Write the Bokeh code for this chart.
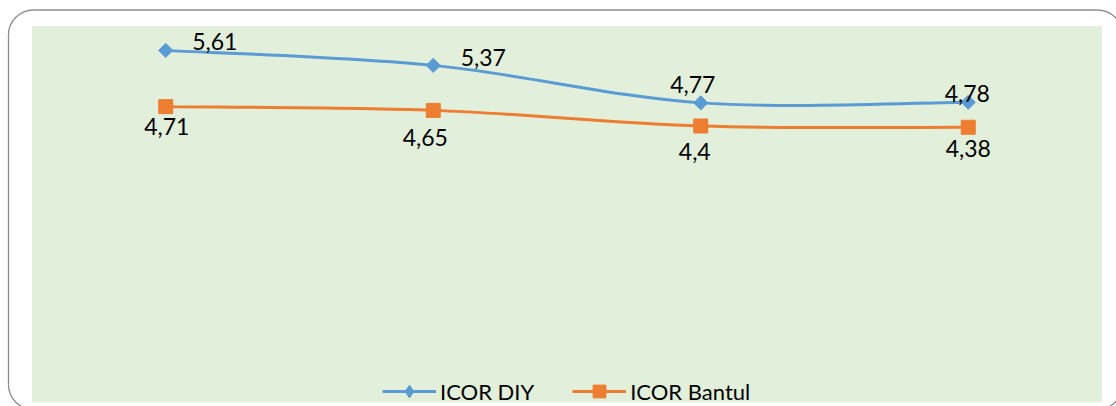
import math
from bokeh.plotting import figure
from bokeh.models import ColumnDataSource, Range1d, Legend, LegendItem, BoxAnnotation
from bokeh.core.properties import value
from bokeh.embed import file_html
from bokeh.resources import INLINE

# ---- data ----
categories = ["1", "2", "3", "4"]
icor_diy = [5.61, 5.37, 4.77, 4.78]
icor_bantul = [4.71, 4.65, 4.40, 4.38]
diy_labels = ["5,61", "5,37", "4,77", "4,78"]
bantul_labels = ["4,71", "4,65", "4,4", "4,38"]

# label offsets in screen pixels (layout only; dy > 0 = upward)
diy_dx = [49, 50, -8, -1]
diy_dy = [9, 8, 18, 9]
bantul_dx = [1, -8, -6, 0]
bantul_dy = [-20, -27, -25, -21]

BLUE = "#5B9BD5"
ORANGE = "#ED7D31"
BG = "#E2EFDA"
FONT = "Lato"
BORDER = "#8c8c8c"

W, H = 1116, 406
# plot-area geometry in pixels (layout)
PL, PR, PT = 31.5, 1101.5, 25.5
Y_MAX, PX_PER_UNIT = 6.0, 62.5
n = len(categories)
band = (PR - PL) / n
x_start = -0.5 - PL / band
x_end = n - 0.5 + (W - PR) / band
y_end = Y_MAX + PT / PX_PER_UNIT
y_start = Y_MAX - (H - PT) / PX_PER_UNIT

xs = list(range(n))

p = figure(width=W, height=H, output_backend="svg", toolbar_location=None,
           x_range=Range1d(x_start, x_end), y_range=Range1d(y_start, y_end),
           min_border=0, min_border_left=0, min_border_right=0,
           min_border_top=0, min_border_bottom=0)
p.background_fill_color = "white"
p.border_fill_color = "white"
p.outline_line_color = None
p.xaxis.visible = False
p.yaxis.visible = False
p.grid.visible = False

plot_area = BoxAnnotation(left=-0.5, right=n - 0.5, top=Y_MAX, bottom=-0.02,
                          fill_color=BG, fill_alpha=1, line_color=None, level="underlay")
p.add_layout(plot_area)


# ---- rounded chart border (decoration, pixel layout converted to the plot's scales) ----
def dx_(px):
    return x_start + px / band


def dy_(py):
    return y_end - py / PX_PER_UNIT


BL, BT, BR, BB, RAD = 8.0, 9.5, 1122.0, 409.0, 25.0
p.segment(x0=[dx_(BL + RAD), dx_(BL), dx_(BR), dx_(BL + RAD)],
          y0=[dy_(BT), dy_(BT + RAD), dy_(BT + RAD), dy_(BB)],
          x1=[dx_(BR - RAD), dx_(BL), dx_(BR), dx_(BR - RAD)],
          y1=[dy_(BT), dy_(BB - RAD), dy_(BB - RAD), dy_(BB)],
          line_color=BORDER, line_width=1.3)
p.arc(x=[dx_(BL + RAD), dx_(BR - RAD), dx_(BL + RAD), dx_(BR - RAD)],
      y=[dy_(BT + RAD), dy_(BT + RAD), dy_(BB - RAD), dy_(BB - RAD)],
      radius=RAD, radius_units="screen",
      start_angle=[math.pi / 2, 0, math.pi, 1.5 * math.pi],
      end_angle=[math.pi, math.pi / 2, 1.5 * math.pi, 2 * math.pi],
      line_color=BORDER, line_width=1.3)


def smooth(xv, yv):
    m = len(xv)
    seg = dict(x0=[], y0=[], x1=[], y1=[], cx0=[], cy0=[], cx1=[], cy1=[])
    for i in range(m - 1):
        pm = max(i - 1, 0)
        pp = min(i + 2, m - 1)
        seg["x0"].append(xv[i]); seg["y0"].append(yv[i])
        seg["x1"].append(xv[i + 1]); seg["y1"].append(yv[i + 1])
        seg["cx0"].append(xv[i] + (xv[i + 1] - xv[pm]) / 6)
        seg["cy0"].append(yv[i] + (yv[i + 1] - yv[pm]) / 6)
        seg["cx1"].append(xv[i + 1] - (xv[pp] - xv[i]) / 6)
        seg["cy1"].append(yv[i + 1] - (yv[pp] - yv[i]) / 6)
    return ColumnDataSource(seg)


def series(yv, color, marker, size, angle, labels, ldx, ldy, legend_marker):
    lr = p.bezier(x0="x0", y0="y0", x1="x1", y1="y1", cx0="cx0", cy0="cy0", cx1="cx1", cy1="cy1",
                  source=smooth(xs, yv), line_color=color, line_width=3)
    src = ColumnDataSource(dict(x=xs, y=yv, lab=labels, dx=ldx, dy=[-v for v in ldy]))
    p.scatter("x", "y", source=src, marker=marker, size=size, angle=angle,
              fill_color=color, line_color=color)
    p.text("x", "y", text="lab", source=src, x_offset="dx", y_offset="dy",
           text_font=value(FONT), text_font_size="23px", text_color="black",
           text_align="center", text_baseline="middle")
    # legend-only marker (no visible point)
    mr = p.scatter(x=[float("nan")], y=[float("nan")], marker=legend_marker,
                   fill_color=color, line_color=color)
    return lr, mr


d_line, d_mark = series(icor_diy, BLUE, "square", 10, math.pi / 4, diy_labels,
                        diy_dx, diy_dy, "diamond")
b_line, b_mark = series(icor_bantul, ORANGE, "square", 14, 0, bantul_labels,
                        bantul_dx, bantul_dy, "square")

legend = Legend(items=[LegendItem(label="ICOR DIY", renderers=[d_line, d_mark], index=0),
                       LegendItem(label="ICOR Bantul", renderers=[b_line, b_mark], index=0)],
                orientation="horizontal", location=(382, -1),
                background_fill_alpha=0, border_line_color=None,
                label_text_font=FONT, label_text_font_size="22px", label_text_color="black",
                glyph_width=54, glyph_height=32, label_standoff=4, spacing=38,
                padding=0, margin=0, label_height=20)
p.add_layout(legend, "center")

open("out.html", "w").write(file_html(p, INLINE))
